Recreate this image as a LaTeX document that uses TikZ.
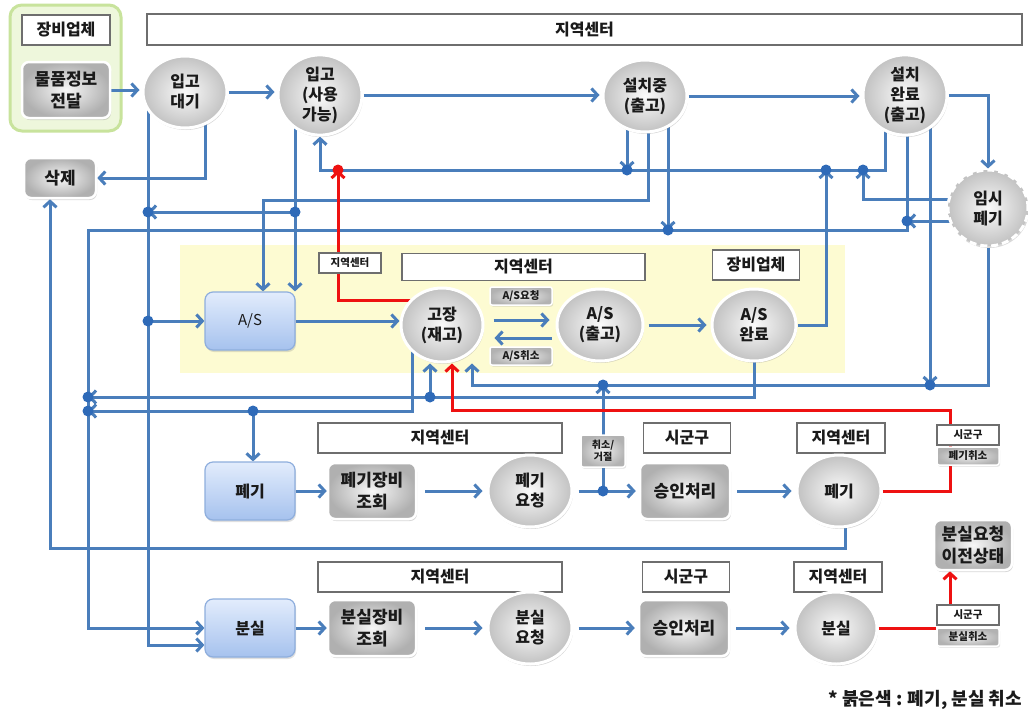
\documentclass[tikz,border=0pt]{standalone}
\usepackage{fontspec}
\setmainfont{Noto Sans CJK KR}
\usetikzlibrary{arrows.meta,shapes.geometric,shadows,calc}
\pgfdeclarelayer{bgz}
\pgfdeclarelayer{bgl}
\pgfsetlayers{bgz,bgl,main}
\definecolor{lnc}{HTML}{4A7EBB}
\definecolor{dotc}{HTML}{2E6AB8}
\definecolor{rdc}{HTML}{EE1111}
\definecolor{lbd}{HTML}{6E6E6E}
\definecolor{ylw}{HTML}{FDFBD2}
\definecolor{grf}{HTML}{EEF7DC}
\definecolor{grd}{HTML}{C8E39C}
\definecolor{btop}{HTML}{E2ECFC}
\definecolor{bbot}{HTML}{A6C2EE}
\definecolor{bbd}{HTML}{8EAEDD}
\definecolor{txt}{HTML}{1A1A1A}
\begin{document}
\begin{tikzpicture}[x=1pt,y=-1pt,
 every node/.style={text=txt},
 circ/.style={ellipse,minimum width=84pt,minimum height=72pt,inner sep=0pt,draw=white,line width=3pt,inner color=gray!4,outer color=gray!48,drop shadow={opacity=0.3,shadow xshift=1pt,shadow yshift=-2pt},align=center,font=\bfseries\fontsize{16}{20}\selectfont},
 dcirc/.style={circ,dash pattern=on 7pt off 4pt,line width=3pt},
 gbox/.style={rectangle,rounded corners=7pt,draw=white,line width=2.5pt,inner color=gray!6,outer color=gray!62,drop shadow={opacity=0.3,shadow xshift=1pt,shadow yshift=-2pt},minimum width=88pt,minimum height=56pt,inner sep=1pt,align=center,font=\bfseries\fontsize{17}{22}\selectfont},
 bbox/.style={rectangle,rounded corners=8pt,draw=bbd,line width=1.2pt,top color=btop,bottom color=bbot,minimum width=90pt,minimum height=58pt,drop shadow={opacity=0.25,shadow xshift=1pt,shadow yshift=-2pt},font=\bfseries\fontsize{16}{18}\selectfont},
 lab/.style={rectangle,draw=lbd,line width=1.6pt,fill=white,minimum height=30pt,inner sep=0pt,font=\bfseries\fontsize{16}{16}\selectfont},
 slab/.style={rectangle,draw=lbd,line width=1.4pt,fill=white,minimum width=62pt,minimum height=20pt,inner sep=0pt,font=\bfseries\fontsize{10.5}{10.5}\selectfont},
 sgrey/.style={rectangle,rounded corners=2pt,draw=white,line width=1.5pt,inner color=gray!12,outer color=gray!60,minimum width=62pt,minimum height=18pt,inner sep=0pt,drop shadow={opacity=0.25,shadow xshift=1pt,shadow yshift=-1.5pt},font=\bfseries\fontsize{10.5}{10.5}\selectfont},
 con/.style={draw=lnc,line width=3pt,-{Straight Barb[length=6pt,width=13pt]}},
 lnp/.style={draw=lnc,line width=3pt},
 redcon/.style={draw=rdc,line width=3pt,-{Straight Barb[length=6pt,width=13pt]}},
 redln/.style={draw=rdc,line width=3pt},
]
\begin{pgfonlayer}{bgz}
\fill[white] (0,0) rectangle (1028,713);
\node[rectangle,rounded corners=12pt,draw=grd,line width=3pt,fill=grf,minimum width=111pt,minimum height=126pt,inner sep=0pt] (grn) at (65.5,68) {};
\node[rectangle,fill=ylw,minimum width=665pt,minimum height=128pt,inner sep=0pt] (yreg) at (512.5,309) {};
\end{pgfonlayer}
\useasboundingbox (0,0) rectangle (1028,713);

% top area
\node[lab,minimum width=88pt] (ven1) at (66,30) {장비업체};
\node[gbox] (info) at (66,90) {물품정보\\전달};
\node[lab,minimum width=875pt,minimum height=31pt] (topbar) at (584.5,29.5) {지역센터};
\node[circ] (c1) at (185,92) {입고\\대기};
\node[circ] (c2) at (320,95) {입고\\(사용\\가능)};
\node[circ] (c3) at (645,96) {설치중\\(출고)};
\node[circ] (c4) at (905,95) {설치\\완료\\(출고)};
\node[dcirc,minimum width=80pt,minimum height=76pt] (c5) at (988,208) {임시\\폐기};
\node[gbox,minimum width=72pt,minimum height=40pt] (del) at (60,178) {삭제};

% A/S area
\node[slab] (jc1) at (350,263) {지역센터};
\node[lab,minimum width=243pt,minimum height=27pt] (bar0) at (523.5,267) {지역센터};
\node[lab,minimum width=87pt] (ven2) at (756,265) {장비업체};
\node[bbox,font=\fontsize{15}{15}\selectfont] (as) at (250,321) {A/S};
\node[circ,minimum width=82pt,minimum height=74pt] (c6) at (442,325) {고장\\(재고)};
\node[sgrey] (asreq) at (521,296) {A/S요청};
\node[sgrey] (ascan) at (521,356) {A/S취소};
\node[circ,minimum width=86pt] (c7) at (600,325) {A/S\\(출고)};
\node[circ] (c8) at (754,325) {A/S\\완료};

% disposal row
\node[lab,minimum width=244pt] (bar1) at (440,438) {지역센터};
\node[bbox] (pb) at (250,491) {폐기};
\node[gbox] (pq) at (372,491) {폐기장비\\조회};
\node[circ] (c9) at (530,491) {폐기\\요청};
\node[sgrey,minimum width=44pt,minimum height=32pt,align=center,font=\bfseries\fontsize{10}{12}\selectfont] (cr) at (603,451) {취소/\\거절};
\node[lab,minimum width=87pt] (sg1) at (687,438) {시군구};
\node[gbox,minimum width=90pt] (ap1) at (685,491) {승인처리};
\node[lab,minimum width=88pt] (jc2) at (841,438) {지역센터};
\node[circ] (c10) at (839,491) {폐기};
\node[slab] (sgA) at (968,435) {시군구};
\node[sgrey] (pcan) at (968,456) {폐기취소};

% loss row
\node[lab,minimum width=244pt] (bar2) at (440,577) {지역센터};
\node[bbox] (bl) at (250,628) {분실};
\node[gbox] (bq) at (372,628) {분실장비\\조회};
\node[circ] (c11) at (530,628) {분실\\요청};
\node[lab,minimum width=87pt] (sg2) at (686,577) {시군구};
\node[gbox,minimum width=90pt] (ap2) at (684,628) {승인처리};
\node[lab,minimum width=88pt] (jc3) at (838,577) {지역센터};
\node[circ,minimum width=82pt] (c12) at (836,628) {분실};
\node[slab] (sgB) at (968,615) {시군구};
\node[sgrey] (bcan) at (968,637) {분실취소};
\node[gbox,minimum width=78pt,minimum height=50pt] (prev) at (973,545) {분실요청\\이전상태};
\node[anchor=east,font=\bfseries\fontsize{18}{18}\selectfont,inner sep=0pt] (note) at (1022,700) {* 붉은색 : 폐기, 분실 취소};

\begin{pgfonlayer}{bgl}
\coordinate (d1) at (338,170);
\coordinate (d2) at (627,170);
\coordinate (d3) at (826,170);
\coordinate (d4) at (863,170);
\coordinate (d5) at (295,212);
\coordinate (d6) at (148,212);
\coordinate (d7) at (148,321);
\coordinate (d8) at (907,221);
\coordinate (d9) at (668,230);
\coordinate (k1) at (88,230);
\coordinate (d10) at (88,397);
\coordinate (d11) at (88,411);
\coordinate (d12) at (930,385);
\coordinate (d13) at (603,385);
\coordinate (d14) at (603,491);
\coordinate (d15) at (430,397);
\coordinate (d16) at (253,411);
\coordinate (k2) at (50,548);
\coordinate (t1) at (263,200);
\coordinate (r1) at (950,410);
\coordinate (r2) at ($(sgB.north)+(-18,0)$);

% top chain
\draw[con,shorten >=2pt] (info.east) -- (info.east -| c1.west);
\draw[con,shorten >=2pt] (c1.east) -- (c1.east -| c2.west);
\draw[con,shorten >=2pt] (c2.east) -- (c2.east -| c3.west);
\draw[con,shorten >=2pt] (c3.east) -- (c3.east -| c4.west);
\draw[con] (c4.east) -| (c5.north);
\draw[con] ($(c1.center)+(20,0)$) |- (del.east);
\draw[con] ($(c4.center)+(-20,0)$) |- (d1) -| (c2.south);
\draw[con] (d2 |- c3.center) -- (d2);
\draw[con] (c8.east) -| (d3);
\draw[con] ($(c5.center)+(0,-9)$) -| (d4);
\draw[con] ($(c3.center)+(3,0)$) |- (t1) -- (t1 |- as.north);
\draw[con] (d5 |- c2.center) -- (d5 |- as.north);
\draw[con] (d5) -- (d6);
\draw[con] (d6 |- c1.center) |- ($(bl.west)+(0,17)$);
\draw[con] (d7) -- (d7 -| as.west);
\draw[con] (as.east) -- (as.east -| c6.west);
\draw[con] ($(c6.east)+(9,-5)$) -- ($(c7.west)+(-6,-5)$);
\draw[con] ($(c7.west)+(-4,13)$) -- ($(c6.east)+(10,13)$);
\draw[con,shorten <=4pt,shorten >=4pt] (c7.east) -- (c8.west);
\draw[lnp] (d8 |- c4.center) -- (d8);
\draw[con] ($(c5.center)+(0,13)$) -- (d8);
\draw[con] (d8) -- (d8 |- k1) -- (k1) |- (bl.west);
\draw[con] (d9 |- c3.center) -- (d9);
\draw[con] (d12 |- c4.center) -- (d12);
\draw[con] (c5.south) |- (d13) -| ($(c6.south)+(30,0)$);
\draw[con] (d14) -- (d13);
\draw[con] (c8.center) |- (d10);
\draw[con] (d15) -- (d15 |- c6.south);
\draw[con] ($(c6.center)+(-30,0)$) |- (d11);
\draw[con] (d16) -- (d16 |- pb.north);
\draw[con] ($(c10.center)+(6,0)$) |- (k2) -- (k2 |- del.south);
% red
\draw[redcon] ($(c6.center)+(0,-25)$) -| (d1);
\draw[redcon] (c10.east) -| (r1) -| ($(c6.south)+(10,0)$);
\draw[redln] (c12.east) -- (c12.east -| bcan.west);
\draw[redcon] (r2) -- (r2 |- prev.south);
% rows
\draw[con] (pb) -- (pq);
\draw[con,shorten <=8pt,shorten >=4pt] (pq) -- (c9);
\draw[con,shorten <=5pt,shorten >=3pt] (c9.east) -- (ap1.west);
\draw[con,shorten <=6pt,shorten >=4pt] (ap1) -- (c10);
\draw[con] (bl) -- (bq);
\draw[con,shorten <=8pt,shorten >=4pt] (bq) -- (c11);
\draw[con,shorten <=5pt,shorten >=3pt] (c11) -- (ap2);
\draw[con,shorten <=6pt,shorten >=4pt] (ap2) -- (c12);
% junction dots
\foreach \p in {d2,d3,d4,d5,d6,d7,d8,d9,d10,d11,d12,d13,d14,d15,d16}
  \fill[dotc] (\p) circle (5.5);
\fill[rdc] (d1) circle (5.5);
\end{pgfonlayer}
\end{tikzpicture}
\end{document}
